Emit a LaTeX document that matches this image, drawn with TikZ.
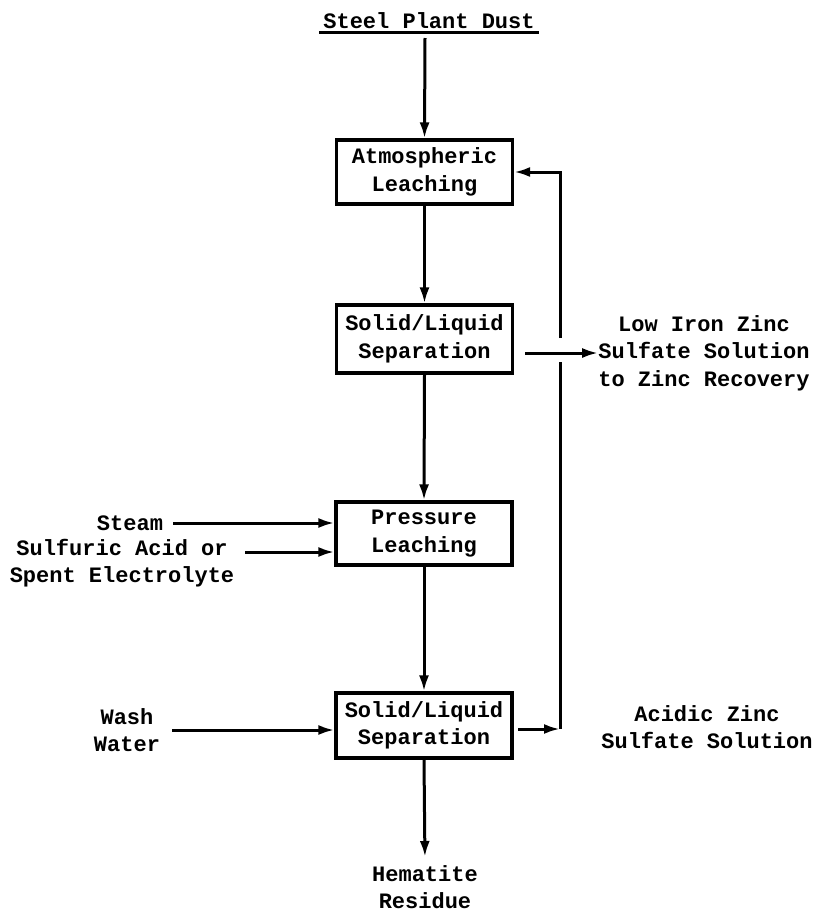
\documentclass[tikz,border=0pt]{standalone}
\usepackage{fontspec}
\setmonofont{Liberation Mono}
\usetikzlibrary{arrows.meta}
\begin{document}
\begin{tikzpicture}[x=1pt,y=-1pt,
  txt/.style={font=\ttfamily\bfseries\fontsize{22}{27.5}\selectfont, inner sep=0pt, align=center},
  proc/.style={txt, draw, line width=3.2pt, minimum width=176pt},
  conn/.style={line width=3pt},
  flow/.style={conn, -{Latex[length=16pt,width=10pt]}}]
\useasboundingbox (0,0) rectangle (819,916);

% title
\node[txt] (title) at (429,21) {Steel Plant Dust};
\draw[line width=2.6pt] ([xshift=-4pt,yshift=-3pt]title.south west) -- ([xshift=4pt,yshift=-3pt]title.south east);

% process boxes
\node[proc, minimum height=64pt] (b1) at (424.5,172) {Atmospheric\\Leaching};
\node[proc, minimum height=68pt] (b2) at (424.5,339) {Solid/Liquid\\Separation};
\node[proc, minimum height=63pt] (b3) at (424,533.5) {Pressure\\Leaching};
\node[proc, minimum height=65pt] (b4) at (424,725.5) {Solid/Liquid\\Separation};

% side texts
\node[txt] (low) at (704,353) {Low Iron Zinc\\Sulfate Solution\\to Zinc Recovery};
\node[txt] (acidic) at (707,727) {Acidic Zinc\\Sulfate Solution};
\node[txt] (steam) at (130,523) {Steam};
\node[txt] (acid) at (122,563) {Sulfuric Acid or\\Spent Electrolyte};
\node[txt] (wash) at (127,730) {Wash\\Water};
\node[txt] (hem) at (425,887) {Hematite\\Residue};

% coordinates
\coordinate (t0) at (425,38);
\coordinate (c1) at (560,172);
\coordinate (g1) at (560,338);
\coordinate (g2) at (560,362);
\coordinate (c4) at (560,729);
\coordinate (a2) at (525,353);
\coordinate (ai) at (245,552);
\coordinate (s4) at (518,729);

% main flow
\draw[flow] (t0) -- (b1.north);
\draw[flow] (b1.south) -- (b2.north);
\draw[flow] (b2.south) -- (b3.north);
\draw[flow] (b3.south) -- (b4.north);
\draw[flow, shorten >=8pt] (b4.south) -- (hem.north);

% inputs
\draw[flow] ([xshift=10pt]steam.east) -- (b3.west |- steam.east);
\draw[flow] (ai) -- (b3.west |- ai);
\draw[flow] ([xshift=12pt]wash.east) -- (b4.west |- wash.east);

% outputs / recycle
\draw[flow] (a2) -- (a2 -| low.west);
\draw[flow] (s4) -- (c4);
\draw[conn] (c4) -- (g2);
\draw[flow] (g1) -- (c1) -- (b1.east);
\end{tikzpicture}
\end{document}
